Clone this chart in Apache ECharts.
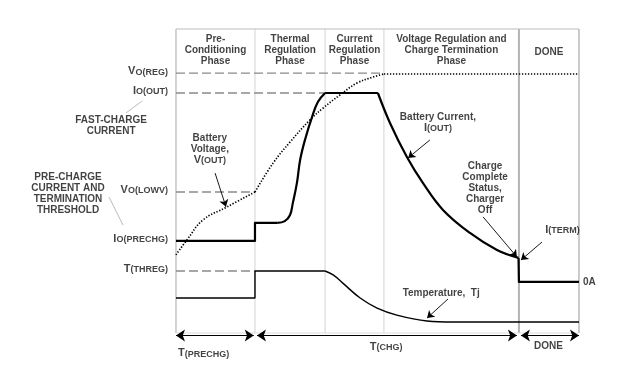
<!DOCTYPE html>
<html><head><meta charset="utf-8">
<script src="https://cdn.jsdelivr.net/npm/echarts@6/dist/echarts.min.js"></script>
<style>html,body{margin:0;padding:0;background:#fff}#c{width:629px;height:379px}</style>
</head><body><div id="c"></div>
<script>
// ---- data (normalised time 0..100, level 0..100) ----
const phaseBounds = [0, 19.6, 37.0, 51.6, 85.1, 100];
const phaseNames = ['Pre-\nConditioning\nPhase', 'Thermal\nRegulation\nPhase', 'Current\nRegulation\nPhase', 'Voltage Regulation and\nCharge Termination\nPhase', 'DONE'];
const levelLabels = ['{m|V}{s|O(REG)}', '{m|I}{s|O(OUT)}', '{m|V}{s|O(LOWV)}', '{m|I}{s|O(PRECHG)}', '{m|T}{s|(THREG)}'];
const levelValues = [85.5, 78.95, 46.4, 30.3, 20.4];
const levelDashEnd = [51.6, 37.0, 19.6, null, 19.6];

const currentPre = [[0, 30.3], [19.6, 30.3], [19.6, 36.2], [25.1, 36.2]];
const currentRise = [[25.1, 36.2], [27.0, 36.8], [28.3, 38.8], [29.0, 42.8], [30.0, 49.3], [30.8, 56.9], [32.0, 63.5], [33.75, 71.0], [35.2, 76.0], [37.0, 78.95]];
const currentFlat = [[37.0, 78.95], [50.1, 78.95]];
const currentDecay = [[50.1, 78.95], [53.1, 69.1], [57.3, 57.9], [61.3, 49.3], [66.25, 40.5], [72.95, 32.9], [79.65, 27.3], [85.0, 24.7]];
const currentDone = [[85.0, 24.7], [85.1, 24.7], [85.1, 16.8], [100, 16.8]];

const voltagePre = [[0, 25.7], [2.7, 30.6], [6.7, 37.2], [12.7, 41.5], [19.6, 46.4]];
const voltageFast = [[19.6, 46.4], [24.1, 55.9], [28.3, 62.8], [33.25, 70.1], [36.5, 74.0], [40.7, 78.3], [44.9, 82.2], [48.9, 84.2], [51.6, 85.2]];
const voltageReg = [[51.6, 85.2], [100, 85.2]];

const tempStep = [[0, 11.5], [19.6, 11.5], [19.6, 20.4], [37.0, 20.4]];
const tempFall = [[37.0, 20.4], [39.0, 19.1], [41.4, 16.4], [45.7, 11.5], [49.9, 8.2], [54.8, 5.9], [62.3, 3.95], [68.7, 3.6], [100, 3.6]];

const timeArrows = [[0, 19.3], [20.1, 84.6], [85.6, 100]];
const timeLabels = ['{m|T}{s|(PRECHG)}', '{m|T}{s|(CHG)}', 'DONE'];

// annotation texts
const notes = [
  {text: 'FAST-CHARGE\nCURRENT', at: [-16.1, 68.1], align: 'center'},
  {text: 'PRE-CHARGE\nCURRENT AND\nTERMINATION\nTHRESHOLD', at: [-26.8, 45.9], align: 'center'},
  {text: 'Battery\nVoltage,\n{m|V}{s|(OUT)}', at: [8.4, 60.6], align: 'center'},
  {text: 'Battery Current,\n{m|I}{s|(OUT)}', at: [65.0, 69.3], align: 'center'},
  {text: 'Charge\nComplete\nStatus,\nCharger\nOff', at: [76.7, 47.7], align: 'center'},
  {text: '{m|I}{s|(TERM)}', at: [91.6, 33.9], align: 'left'},
  {text: '0A', at: [101.0, 16.8], align: 'left'},
  {text: 'Temperature,  Tj', at: [65.8, 13.2], align: 'center'},
  {text: timeLabels[0], at: [0.5, -6.6], align: 'left'},
  {text: timeLabels[1], at: [48.1, -4.5], align: 'left'},
  {text: timeLabels[2], at: [92.4, -4.5], align: 'center'}
];
const pointerArrows = [
  [[9.7, 52.6], [12.4, 41.5]],
  [[63.0, 63.5], [57.6, 57.6]],
  [[76.2, 38.2], [84.6, 25.0]],
  [[90.8, 29.9], [85.6, 24.0]],
  [[67.5, 11.2], [62.3, 4.9]]
];
const leaderLines = [
  [[-12.4, 72.4], [-8.4, 76.3]],
  [[-16.6, 44.7], [-13.15, 35.5]]
];

// ---- chart ----
const FONT = '"Liberation Sans", Arial, sans-serif';
const rich = {
  m: {fontSize: 11, fontWeight: 'bold', fontFamily: FONT, color: '#111', verticalAlign: 'top'},
  s: {fontSize: 9, fontWeight: 'bold', fontFamily: FONT, color: '#111', verticalAlign: 'bottom', padding: [8, 0, 0, 0]}
};
function line(data, style, smooth, z) {
  return {type: 'line', data: data, smooth: smooth || false, symbol: 'none', clip: false,
    silent: true, animation: false, z: z || 2, lineStyle: style};
}
const series = [];
// phase grid lines
const vColors = ['#a8a8a8', '#d4d4d4', '#d4d4d4', '#d4d4d4', '#b4b4b4', '#999'];
const vWidths = [1, 1, 1, 1, 2, 1];
phaseBounds.forEach((b, i) => series.push(line([[b, 0], [b, 100]], {color: vColors[i], width: vWidths[i]}, false, 1)));
series.push(line([[0, 100], [100, 100]], {color: '#bbb', width: 1}, false, 1));
series.push(line([[0, 0], [100, 0]], {color: '#ddd', width: 1}, false, 1));
// dashed level lines
levelValues.forEach((v, i) => {
  if (levelDashEnd[i] != null)
    series.push(line([[0, v], [levelDashEnd[i], v]], {color: '#8a8a8a', width: 1.4, type: [9, 4]}, false, 1));
});
// current
const curStyle = {color: '#000', width: 2.2, join: 'round'};
series.push(line(currentPre, curStyle));
series.push(line(currentRise, curStyle, 0.4));
series.push(line(currentFlat, curStyle));
series.push(line(currentDecay, curStyle, 0.4));
series.push(line(currentDone, curStyle));
// voltage dotted
const volStyle = {color: '#000', width: 1.7, type: [1.3, 1.7]};
series.push(line(voltagePre, volStyle, 0.4));
series.push(line(voltageFast, volStyle, 0.4));
series.push(line(voltageReg, volStyle));
// temperature
const tStyle = {color: '#000', width: 1.4};
series.push(line(tempStep, tStyle));
series.push(line(tempFall, tStyle, 0.4));
// arrows
function mk(data, symbol, size, lineStyle) {
  return {
    type: 'line', data: [], symbol: 'none', clip: false, silent: true, animation: false,
    markLine: {silent: true, animation: false, label: {show: false}, symbol: symbol, symbolSize: size,
      lineStyle: lineStyle, data: data}
  };
}
series.push(mk(timeArrows.map(a => [{coord: [a[0], -0.8]}, {coord: [a[1], -0.8]}]), ['arrow', 'arrow'], 9,
  {color: '#000', width: 1, type: 'solid'}));
series.push(mk(pointerArrows.map(a => [{coord: a[0]}, {coord: a[1]}]), ['none', 'arrow'], 7,
  {color: '#000', width: 0.9, type: 'solid'}));
series.push(mk(leaderLines.map(a => [{coord: a[0]}, {coord: a[1]}]), ['none', 'none'], 0,
  {color: '#aaa', width: 0.8, type: 'solid'}));
// texts
const textBase = {show: true, position: 'inside', fontSize: 10, fontWeight: 'bold', fontFamily: FONT,
  color: '#111', lineHeight: 11, rich: rich, verticalAlign: 'middle'};
const textData = [];
phaseNames.forEach((n, i) => textData.push({value: [(phaseBounds[i] + phaseBounds[i + 1]) / 2, i === 4 ? 92.4 : 93.1],
  label: Object.assign({}, textBase, {formatter: n, align: 'center'})}));
levelLabels.forEach((n, i) => textData.push({value: [-2.0, levelValues[i]],
  label: Object.assign({}, textBase, {formatter: n, align: 'right', offset: [0, -2]})}));
notes.forEach(n => textData.push({value: n.at, label: Object.assign({}, textBase, {formatter: n.text, align: n.align})}));
series.push({type: 'scatter', symbolSize: 0, clip: false, silent: true, animation: false, data: textData, z: 5});

// axes span the whole canvas so that annotations outside the diagram box share the same scale
const chart = echarts.init(document.getElementById('c'), null, {renderer: 'canvas'});
chart.setOption({
  animation: false,
  backgroundColor: '#fff',
  grid: {left: 0, right: 0, top: 0, bottom: 0, containLabel: false},
  xAxis: {type: 'value', min: -43.67, max: 112.41, show: false},
  yAxis: {type: 'value', min: -15.13, max: 109.54, show: false},
  series: series
});
</script></body></html>
